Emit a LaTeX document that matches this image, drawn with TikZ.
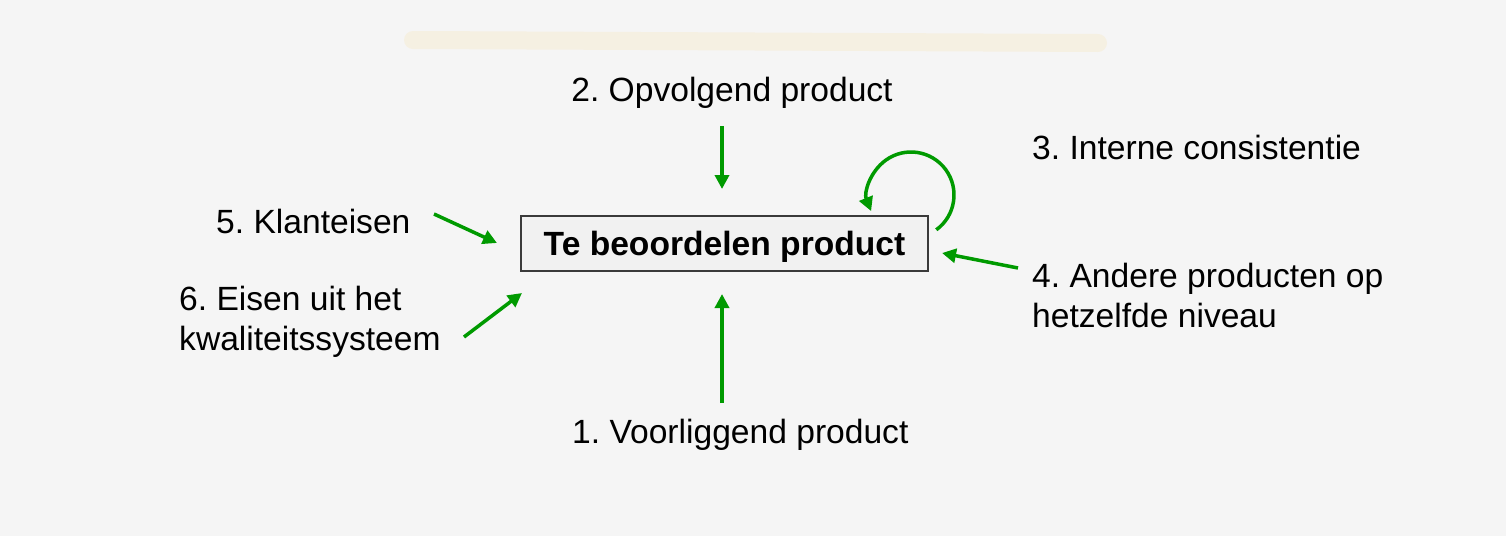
\documentclass[tikz,border=0pt]{standalone}
\usepackage{fontspec}
\setmainfont{Liberation Sans}
\usetikzlibrary{arrows.meta}
\definecolor{bg}{HTML}{F5F5F5}
\definecolor{garrow}{HTML}{009A00}
\definecolor{barc}{HTML}{F5F0E2}
\definecolor{boxfill}{HTML}{F1F1F1}
\definecolor{boxline}{HTML}{3A3A3A}
\tikzset{
  lbl/.style={font=\fontsize{33.6}{40}\selectfont, inner sep=0pt, align=left},
  conn/.style={draw=garrow, line width=3.5pt, -{Triangle[length=14pt,width=14pt]}},
  mainbox/.style={draw=boxline, line width=1.5pt, fill=boxfill, minimum width=407pt, minimum height=55pt, text height=26pt, text depth=3pt, font=\fontsize{33.6}{38}\selectfont\bfseries, inner sep=0pt}
}
\begin{document}
\frenchspacing
\begin{tikzpicture}[x=1pt,y=-1pt]
\fill[bg] (0,0) rectangle (1506,536);
\useasboundingbox (0,0) rectangle (1506,536);
\draw[barc, line width=18pt, line cap=round] (413,40) -- (1098,43);
\node[mainbox] (box) at (724.5,243.5) {Te beoordelen product};
\node[lbl, anchor=center] (l2) at (732,93) {2. Opvolgend product};
\node[lbl, anchor=west] (l3) at (1032,147) {3. Interne consistentie};
\node[lbl, anchor=west] (l5) at (216,221) {5. Klanteisen};
\node[lbl, anchor=west] (l6) at (179,322) {6. Eisen uit het\\kwaliteitssysteem};
\node[lbl, anchor=west] (l4) at (1032,295) {4. Andere producten op\\hetzelfde niveau};
\node[lbl, anchor=west] (l1) at (572,435) {1. Voorliggend product};
\coordinate (a2s) at (722,126);
\coordinate (a2e) at (722,189);
\coordinate (a1s) at (722,403);
\coordinate (a1e) at (722,294);
\coordinate (a5s) at (434,214);
\coordinate (a5e) at (497,243);
\coordinate (a6s) at (464,337);
\coordinate (a6e) at (522,293);
\coordinate (a4s) at (1018,268);
\coordinate (a4e) at (942,253);
\draw[conn] (a2s) -- (a2e);
\draw[conn] (a1s) -- (a1e);
\draw[conn] (a5s) -- (a5e);
\draw[conn] (a6s) -- (a6e);
\draw[conn] (a4s) -- (a4e);
\coordinate (loopc) at (911,195);
\draw[conn] ([shift={(54:43)}]loopc) arc[start angle=54, end angle=-202, radius=43];
\end{tikzpicture}
\end{document}
